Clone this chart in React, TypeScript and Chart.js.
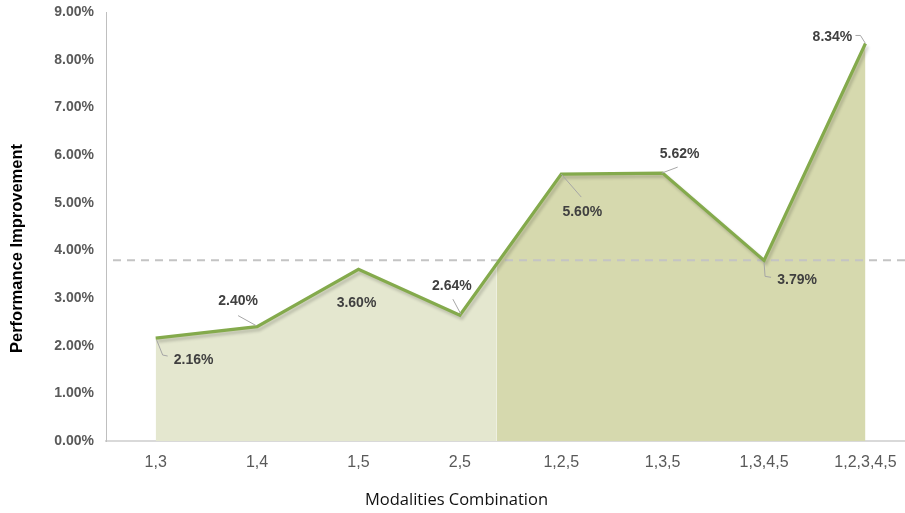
import React, { useEffect, useRef } from "react";
import { Chart, registerables } from "chart.js";

Chart.register(...registerables);

const categories = ["1,3", "1,4", "1,5", "2,5", "1,2,5", "1,3,5", "1,3,4,5", "1,2,3,4,5"];
const improvements = [2.16, 2.4, 3.6, 2.64, 5.6, 5.62, 3.79, 8.34];
const referenceValue = 3.79;
const yTickValues = [0, 1, 2, 3, 4, 5, 6, 7, 8, 9];
const xTitle = "Modalities Combination";
const yTitle = "Performance Improvement";

// label placement (style only): offset of label centre from the point, and leader path relative to point
const labelStyles = [
  { dx: 38, dy: 22, leader: [[1, 2], [7, 17], [12, 18]] },
  { dx: -19, dy: -25, leader: [[-1, -1], [-19, -11]] },
  { dx: -2, dy: 34, leader: [] },
  { dx: -8, dy: -29, leader: [[1, -1], [-7, -16]] },
  { dx: 21, dy: 38, leader: [[0, 0], [20, 23]] },
  { dx: 17, dy: -19, leader: [[-1, 0], [15, -6]] },
  { dx: 33, dy: 20, leader: [[0, 2], [1, 16], [7, 17]] },
  { dx: -33, dy: -6, leader: [[0, 0], [-5, -8], [-10, -8]] },
];

const LIGHT = "#e4e7cf";
const DARK = "#d6d9ae";
const LINE = "#84aa4c";

function firstUpCrossing(): number {
  for (let i = 0; i < improvements.length - 1; i++) {
    const a = improvements[i];
    const b = improvements[i + 1];
    if (a < referenceValue && b >= referenceValue) {
      return i + (referenceValue - a) / (b - a);
    }
  }
  return improvements.length - 1;
}

export default function App() {
  const ref = useRef<HTMLCanvasElement | null>(null);

  useEffect(() => {
    const canvas = ref.current;
    if (!canvas) return;

    const refLinePlugin = {
      id: "refLineShadow",
      beforeDatasetDraw(chart: any) {
        const { ctx, chartArea, scales } = chart;
        const y = scales.y.getPixelForValue(referenceValue);
        ctx.save();
        ctx.strokeStyle = "#c4c4c4";
        ctx.lineWidth = 2;
        ctx.setLineDash([8, 6]);
        ctx.beginPath();
        ctx.moveTo(chartArea.left + 7, y);
        ctx.lineTo(chartArea.right, y);
        ctx.stroke();
        ctx.restore();
        ctx.save();
        ctx.shadowColor = "rgba(0,0,0,0.18)";
        ctx.shadowBlur = 3;
        ctx.shadowOffsetX = 2;
        ctx.shadowOffsetY = 3;
      },
      afterDatasetDraw(chart: any) {
        chart.ctx.restore();
      },
      afterDatasetsDraw(chart: any) {
        const { ctx } = chart;
        const meta = chart.getDatasetMeta(0);
        ctx.save();
        ctx.font = "bold 14px 'Liberation Sans', Arial, sans-serif";
        ctx.fillStyle = "#404040";
        ctx.textAlign = "center";
        ctx.textBaseline = "middle";
        meta.data.forEach((pt: any, i: number) => {
          const st = labelStyles[i];
          if (st.leader.length > 1) {
            ctx.strokeStyle = "#a6a6a6";
            ctx.lineWidth = 1;
            ctx.beginPath();
            st.leader.forEach((p: number[], k: number) => {
              const x = pt.x + p[0];
              const yy = pt.y + p[1];
              if (k === 0) ctx.moveTo(x, yy);
              else ctx.lineTo(x, yy);
            });
            ctx.stroke();
          }
          ctx.fillText(improvements[i].toFixed(2) + "%", pt.x + st.dx, pt.y + st.dy);
        });
        ctx.restore();
      },
      afterDraw(chart: any) {
        const { ctx, width, height } = chart;
        ctx.save();
        ctx.textAlign = "center";
        ctx.textBaseline = "middle";
        ctx.fillStyle = "#111111";
        ctx.font = "16.5px 'Open Sans', 'Liberation Sans', Arial, sans-serif";
        ctx.fillText(xTitle, width / 2 + 4, height - 13);
        ctx.translate(17, height / 2 - 8);
        ctx.rotate(-Math.PI / 2);
        ctx.fillStyle = "#000000";
        ctx.font = "bold 16.5px 'Liberation Sans', Arial, sans-serif";
        ctx.fillText(yTitle, 0, 0);
        ctx.restore();
      },
    };

    const chart = new Chart(canvas, {
      type: "line",
      data: {
        datasets: [
          {
            data: improvements.map((v, i) => ({ x: i, y: v })),
            borderColor: LINE,
            borderWidth: 3.2,
            pointRadius: 0,
            tension: 0,
            fill: "origin",
            backgroundColor: (c: any) => {
              const ch = c.chart;
              const area = ch.chartArea;
              if (!area) return LIGHT;
              const sx = ch.scales.x.getPixelForValue(firstUpCrossing()) - 3;
              const f = (sx - area.left) / (area.right - area.left);
              const g = ch.ctx.createLinearGradient(area.left, 0, area.right, 0);
              g.addColorStop(0, LIGHT);
              g.addColorStop(Math.max(0, f - 0.0001), LIGHT);
              g.addColorStop(f, "#eef0e0");
              g.addColorStop(Math.min(1, f + 0.0013), "#eef0e0");
              g.addColorStop(Math.min(1, f + 0.0014), DARK);
              g.addColorStop(1, DARK);
              return g;
            },
          },
        ],
      },
      options: {
        animation: false,
        responsive: true,
        maintainAspectRatio: false,
        layout: { padding: { top: 12, right: 0, left: 0, bottom: 0 } },
        plugins: { legend: { display: false }, tooltip: { enabled: false } },
        scales: {
          x: {
            type: "linear",
            min: -0.49,
            max: 7.39,
            grid: { display: false, drawTicks: false },
            border: { display: true, color: "#d9d9d9", width: 2 },
            afterBuildTicks: (s: any) => {
              s.ticks = categories.map((_, i) => ({ value: i }));
            },
            ticks: {
              autoSkip: false,
              maxRotation: 0,
              padding: 12,
              color: "#595959",
              font: { family: "'Liberation Sans', Arial", size: 16 },
              callback: (v: any) => categories[Math.round(Number(v))] ?? "",
            },
            afterFit: (s: any) => {
              s.height = 72;
              s.paddingLeft = 0;
              s.paddingRight = 0;
            },
          },
          y: {
            min: 0,
            max: 9,
            grid: { display: false, drawTicks: false },
            border: { display: true, color: "#bfbfbf", width: 1 },
            afterBuildTicks: (s: any) => {
              s.ticks = yTickValues.map((v) => ({ value: v }));
            },
            ticks: {
              padding: 12,
              color: "#595959",
              font: { family: "'Liberation Sans', Arial", size: 14, weight: "bold" },
              callback: (v: any) => Number(v).toFixed(2) + "%",
            },
            afterFit: (s: any) => {
              s.width = 106;
              s.paddingTop = 0;
              s.paddingBottom = 0;
            },
          },
        },
      },
      plugins: [refLinePlugin],
    } as any);

    return () => chart.destroy();
  }, []);

  return (
    <div style={{ position: "fixed", left: 0, top: 0, width: 905, height: 513, background: "#fff" }}>
      <canvas ref={ref} />
    </div>
  );
}
